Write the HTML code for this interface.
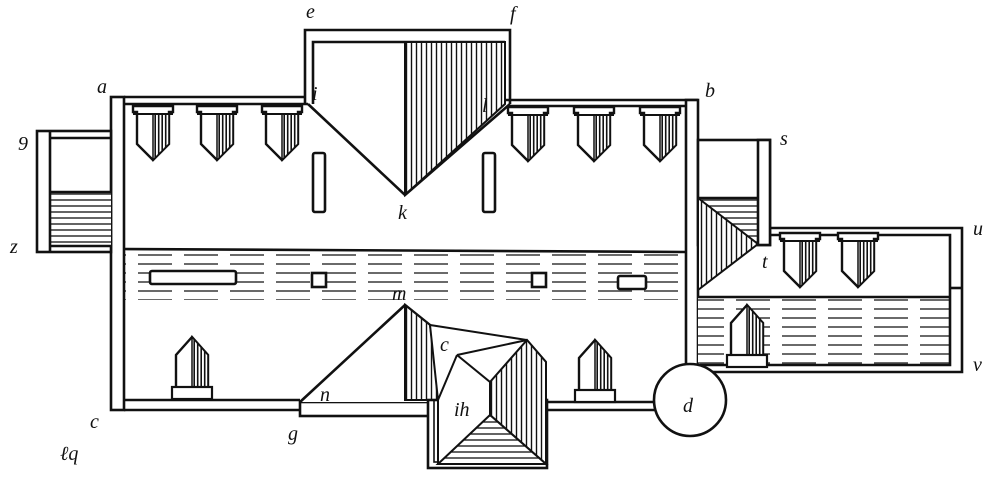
<!DOCTYPE html>
<html><head><meta charset="utf-8"><style>
html,body{margin:0;padding:0;background:#fff;}
svg{display:block}
text{font-family:"Liberation Serif",serif;font-style:italic;font-size:20px;fill:#111}
</style></head><body>
<svg width="1000" height="478" viewBox="0 0 1000 478" xmlns="http://www.w3.org/2000/svg">
<defs>
<pattern id="vh" width="5" height="10" patternUnits="userSpaceOnUse"><rect width="5" height="10" fill="#fff"/><line x1="1.5" y1="0" x2="1.5" y2="10" stroke="#111" stroke-width="1.4"/></pattern>
<pattern id="vd" width="3.5" height="10" patternUnits="userSpaceOnUse"><rect width="3.5" height="10" fill="#fff"/><line x1="1.2" y1="0" x2="1.2" y2="10" stroke="#111" stroke-width="1.6"/></pattern>
<pattern id="hh" width="10" height="6" patternUnits="userSpaceOnUse"><rect width="10" height="6" fill="#fff"/><line x1="0" y1="2" x2="10" y2="2" stroke="#111" stroke-width="1.3"/></pattern>
<pattern id="hd" width="46" height="9" patternUnits="userSpaceOnUse"><rect width="46" height="9" fill="#fff"/><line x1="0" y1="3" x2="34" y2="3" stroke="#111" stroke-width="1.2"/></pattern>
<g id="shD"><path d="M0,0 H40 V6 H36 V38 L20,54 L4,38 V6 H0 Z" fill="#fff" stroke="#111" stroke-width="2.4"/><path d="M20,8 H36 V38 L20,54 Z" fill="url(#vd)" stroke="#111" stroke-width="1.5"/><line x1="0" y1="8" x2="40" y2="8" stroke="#111" stroke-width="2"/></g>
<g id="shU"><path d="M4,60 V18 L20,0 L36,18 V60 Z" fill="#fff" stroke="#111" stroke-width="2.4"/><path d="M20,0 L36,18 V50 H20 Z" fill="url(#vd)" stroke="#111" stroke-width="1.5"/><rect x="0" y="50" width="40" height="12" fill="#fff" stroke="#111" stroke-width="2.2"/></g>
</defs>
<g fill="none" stroke="#111" stroke-width="2.6">
<rect x="124" y="250" width="562" height="50" fill="url(#hd)" stroke="none"/>
<line x1="124" y1="249" x2="686" y2="252"/>
<path d="M305,104 V30 H510 V104"/>
<path d="M313,104 V42 H505"/>
<path d="M405,42 H505 V104 L405,195 Z" fill="url(#vh)" stroke-width="2"/>
<path d="M308,104 L405,195 L510,104"/>
<rect x="111" y="97" width="13" height="313" fill="#fff"/>
<path d="M124,97 H305 M124,104 H308"/>
<path d="M505,100 H698 M510,106 H686"/>
<rect x="686" y="100" width="12" height="296" fill="#fff"/>
<path d="M124,400 H300 M124,410 H300"/>
<rect x="300" y="402" width="137" height="14" fill="#fff"/>
<path d="M547,402 H655 M547,410 H655"/>
<rect x="313" y="153" width="12" height="59" rx="2" fill="#fff"/>
<rect x="483" y="153" width="12" height="59" rx="2" fill="#fff"/>
<rect x="150" y="271" width="86" height="13" rx="2" fill="#fff"/>
<rect x="312" y="273" width="14" height="14" fill="#fff"/>
<rect x="532" y="273" width="14" height="14" fill="#fff"/>
<rect x="618" y="276" width="28" height="13" rx="2" fill="#fff"/>
<rect x="37" y="131" width="74" height="121" fill="#fff"/>
<rect x="50" y="192" width="61" height="54" fill="url(#hh)" stroke="none"/>
<path d="M50,131 V252 M50,138 H111 M50,246 H111 M50,192 H111"/>
<rect x="698" y="140" width="72" height="105" fill="#fff"/>
<rect x="698" y="198" width="60" height="46" fill="url(#hh)" stroke="none"/>
<path d="M698,198 L758,244 L698,290 Z" fill="url(#vh)" stroke-width="2"/>
<rect x="758" y="140" width="12" height="105" fill="#fff"/>
<line x1="698" y1="198" x2="758" y2="198"/>
<rect x="698" y="297" width="252" height="68" fill="url(#hd)" stroke="none"/>
<path d="M770,228 H962 V372 H698 M770,235 H950 V365 H700 M698,297 H950"/>
<line x1="950" y1="288" x2="962" y2="288"/>
<path d="M300,402 L405,305 L430,325 L440,402" fill="#fff"/>
<path d="M405,305 L430,325 L440,400 H405 Z" fill="url(#vh)" stroke-width="2"/>
<rect x="428" y="400" width="119" height="68" fill="#fff"/>
<rect x="434" y="400" width="107" height="62" fill="none" stroke-width="1.6"/>
<path d="M430,325 L527,340 L546,362 V464 H438 V400 Z" fill="#fff" stroke-width="2"/>
<path d="M490,382 L527,340 L546,362 V464 L490,415 Z" fill="url(#vh)" stroke-width="2"/>
<path d="M438,464 L490,415 L546,464 Z" fill="url(#hh)" stroke-width="2"/>
<path d="M457,355 L527,340 M457,355 L438,400 M457,355 L490,382 L490,415" stroke-width="2"/>
<circle cx="690" cy="400" r="36" fill="#fff"/>
</g>
<use href="#shD" x="133" y="106"/><use href="#shD" x="197" y="106"/><use href="#shD" x="262" y="106"/>
<use href="#shD" x="508" y="107"/><use href="#shD" x="574" y="107"/><use href="#shD" x="640" y="107"/>
<use href="#shD" x="780" y="233"/><use href="#shD" x="838" y="233"/>
<use href="#shU" x="172" y="337"/><use href="#shU" x="575" y="340"/><use href="#shU" x="727" y="305"/>
<text x="97" y="93">a</text><text x="705" y="97">b</text><text x="90" y="428">c</text>
<text x="683" y="412">d</text><text x="306" y="18">e</text><text x="510" y="20">f</text>
<text x="288" y="440">g</text><text x="454" y="416" font-size="16">ih</text>
<text x="312" y="100">i</text><text x="398" y="219">k</text><text x="482" y="112">l</text>
<text x="392" y="300">m</text><text x="320" y="401">n</text><text x="440" y="351">c</text>
<text x="780" y="145">s</text><text x="762" y="268">t</text><text x="973" y="235">u</text>
<text x="973" y="371">v</text><text x="18" y="150">9</text><text x="10" y="253">z</text>
<text x="60" y="460" font-size="22">ℓq</text>
</svg>
</body></html>
